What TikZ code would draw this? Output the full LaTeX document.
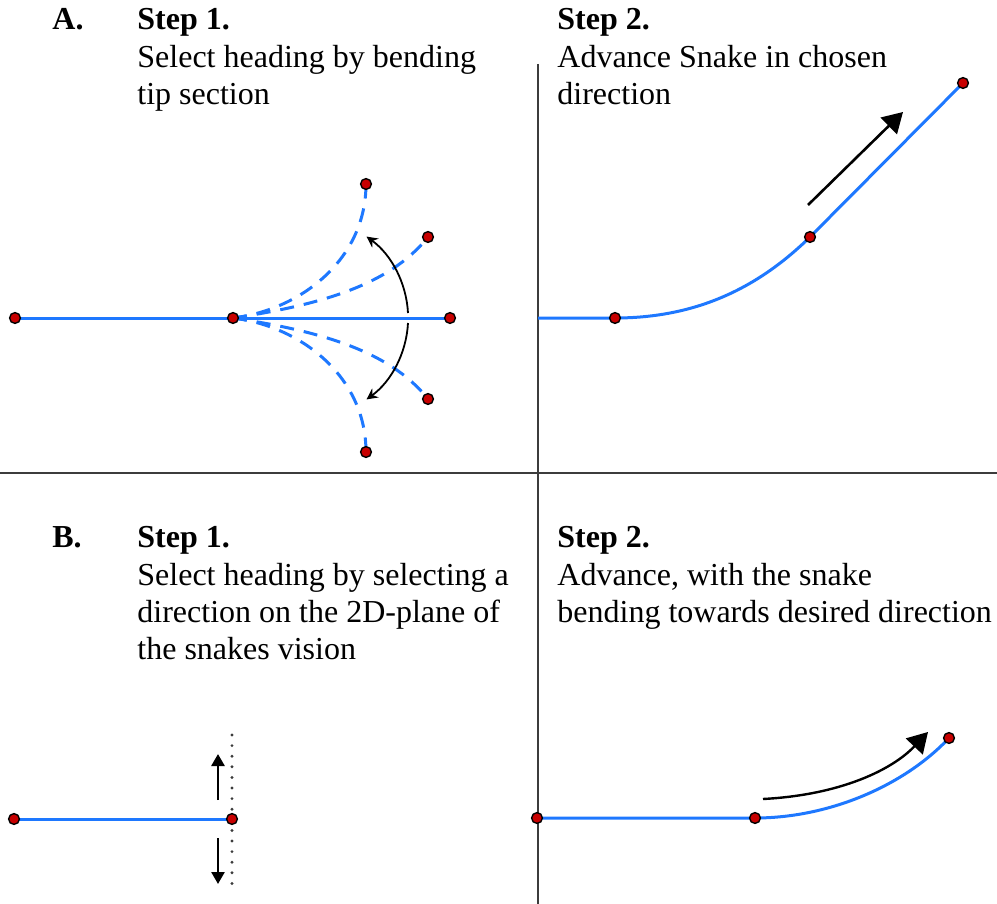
\documentclass[tikz,border=0pt]{standalone}
\usepackage{fontspec}
\setmainfont{Liberation Serif}
\usetikzlibrary{arrows.meta}
\definecolor{snakeblue}{RGB}{30,120,255}
\definecolor{dotred}{RGB}{200,0,0}
\definecolor{divgray}{RGB}{60,60,60}
\begin{document}
\begin{tikzpicture}[x=0.5pt,y=-0.5pt,
  txt/.style={anchor=base west,inner sep=0pt,font=\fontsize{16}{18.5}\selectfont},
  btxt/.style={txt,font=\fontsize{16}{18.5}\selectfont\bfseries},
  snake/.style={draw=snakeblue,line width=1.5pt},
  dsnake/.style={snake,dash pattern=on 7pt off 5pt},
  dot/.style={circle,fill=dotred,draw=black,line width=0.7pt,inner sep=0pt,minimum size=5.4pt},
  divider/.style={draw=divgray,line width=1pt},
  thinarrow/.style={draw=black,line width=0.9pt,-{Stealth[length=5.5pt,width=5.5pt]}},
  bigarrow/.style={draw=black,line width=1.3pt,-{Triangle[length=10pt,width=11.5pt]}},
  midarrow/.style={draw=black,line width=1.3pt,-{Triangle[length=6pt,width=6.5pt]}},
  dottedline/.style={draw=divgray,line width=1.6pt,line cap=round,dash pattern=on 0pt off 5.3pt}]
\useasboundingbox (0,0) rectangle (997,904);

% dividers
\coordinate (hL) at (0,473);
\coordinate (hR) at (997,473);
\coordinate (vT) at (538,64);
\coordinate (vB) at (538,904);
\draw[divider] (hL) -- (hR);
\draw[divider] (vT) -- (vB);

% texts
\node[btxt] (labA) at (52,30) {A.};
\node[btxt] (a1h) at (137,30) {Step 1.};
\node[txt] (a1l1) at (137,68) {Select heading by bending};
\node[txt] (a1l2) at (137,105) {tip section};
\node[btxt] (a2h) at (557,30) {Step 2.};
\node[txt] (a2l1) at (557,68) {Advance Snake in chosen};
\node[txt] (a2l2) at (557,105) {direction};

\node[btxt] (labB) at (52,547) {B.};
\node[btxt] (b1h) at (137,547) {Step 1.};
\node[txt] (b1l1) at (137,585) {Select heading by selecting a};
\node[txt] (b1l2) at (137,622) {direction on the 2D-plane of};
\node[txt] (b1l3) at (137,659) {the snakes vision};
\node[btxt] (b2h) at (557,547) {Step 2.};
\node[txt] (b2l1) at (557,585) {Advance, with the snake};
\node[txt] (b2l2) at (557,622) {bending towards desired direction};

% ---------- Panel A, step 1
\coordinate (A0) at (15,318);
\coordinate (A1) at (233,318);
\coordinate (A2) at (450,318);
\coordinate (At1) at (366,184);
\coordinate (At2) at (428,237);
\coordinate (At3) at (428,399);
\coordinate (At4) at (366,452);
\draw[snake] (A0) -- (A2);
\draw[dsnake] (A1) .. controls (300,310) and (366,260) .. (At1);
\draw[dsnake] (A1) .. controls (320,305) and (390,285) .. (At2);
\draw[dsnake] (A1) .. controls (320,331) and (390,351) .. (At3);
\draw[dsnake] (A1) .. controls (300,326) and (366,376) .. (At4);
\coordinate (arcU) at (408,313);
\coordinate (arcD) at (408,323);
\draw[thinarrow] (arcU) arc[start angle=3,end angle=54,radius=50.5pt];
\draw[thinarrow] (arcD) arc[start angle=-3,end angle=-54,radius=50.5pt];
\foreach \p in {A0,A1,A2,At1,At2,At3,At4} \node[dot] at (\p) {};

% ---------- Panel A, step 2
\coordinate (S0) at (538,318);
\coordinate (S1) at (615,318);
\coordinate (S2) at (810,237);
\coordinate (S3) at (963,83);
\draw[snake] (S0) -- (S1) .. controls (695,318) and (757,289) .. (S2) -- (S3);
\coordinate (arA0) at (808,205);
\coordinate (arA1) at (903,112);
\draw[bigarrow] (arA0) -- (arA1);
\foreach \p in {S1,S2,S3} \node[dot] at (\p) {};

% ---------- Panel B, step 1
\coordinate (B0) at (14,819);
\coordinate (B1) at (232,819);
\coordinate (dT) at (232,735);
\coordinate (dB) at (232,893);
\draw[dottedline] (dT) -- (dB);
\draw[snake] (B0) -- (B1);
\coordinate (upS) at (218,800);
\coordinate (upE) at (218,754);
\coordinate (dnS) at (218,838);
\coordinate (dnE) at (218,884);
\draw[midarrow] (upS) -- (upE);
\draw[midarrow] (dnS) -- (dnE);
\foreach \p in {B0,B1} \node[dot] at (\p) {};

% ---------- Panel B, step 2
\coordinate (C0) at (537,818);
\coordinate (C1) at (755,818);
\coordinate (C2) at (949,738);
\draw[snake] (C0) -- (C1) .. controls (830,818) and (905,785) .. (C2);
\coordinate (arB0) at (763,799);
\coordinate (arB1) at (928,732);
\draw[bigarrow,line width=1.2pt] (arB0) .. controls (840,795) and (892,770) .. (arB1);
\foreach \p in {C0,C1,C2} \node[dot] at (\p) {};
\end{tikzpicture}
\end{document}
